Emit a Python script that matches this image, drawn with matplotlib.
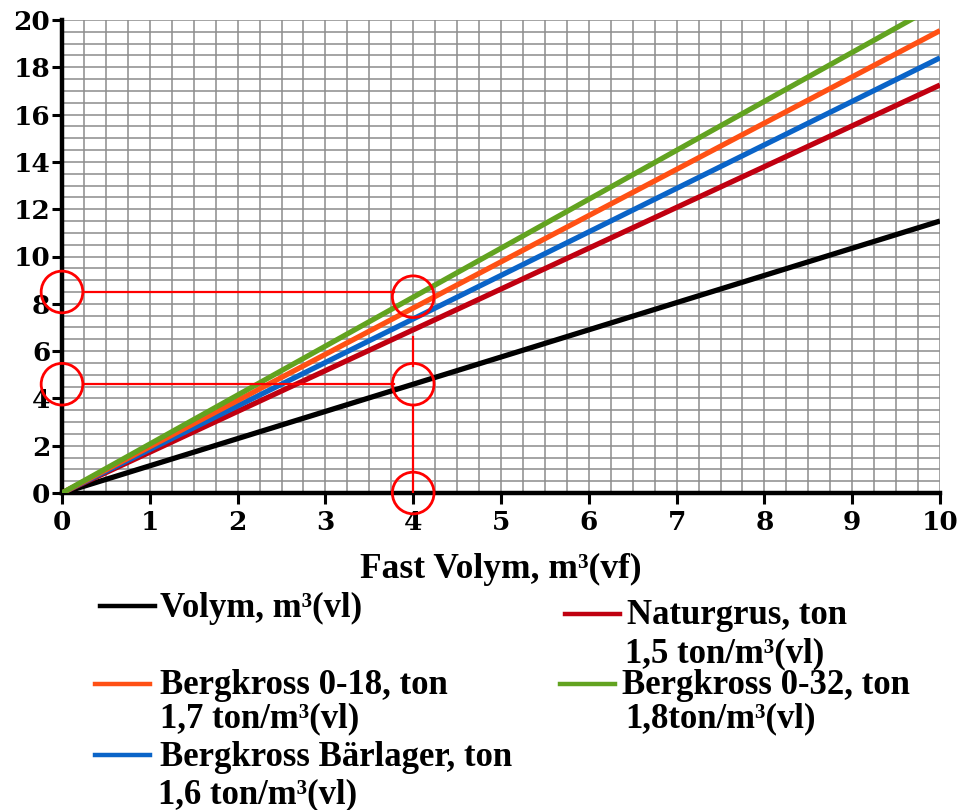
import matplotlib
matplotlib.use("Agg")
import matplotlib.pyplot as plt
import numpy as np
from matplotlib.lines import Line2D

# Fast volume (m³ vf) and corresponding loose volume (m³ vl)
fast_volym = [0, 10]
volym_vl = [0, 11.5]

# Bulk densities, ton per m³ loose volume
series_names = ["Naturgrus, ton", "Bergkross Bärlager, ton",
                "Bergkross 0-18, ton", "Bergkross 0-32, ton"]
densities = [1.5, 1.6, 1.7, 1.8]
series_colors = ["#C00010", "#0A64C8", "#FF5014", "#62A320"]

x_ticks = [0, 1, 2, 3, 4, 5, 6, 7, 8, 9, 10]
y_ticks = [0, 2, 4, 6, 8, 10, 12, 14, 16, 18, 20]

# Reading example: 4 m³ fast -> 4.6 m³ loose -> about 8.3 ton
ex_fast = 4
ex_loose = 4.6
ex_ton = 8.3
ex_ton_axis = 8.5

SERIF = "Liberation Serif"
TICKFONT = "DejaVu Serif"
LEGEND_SIZE = 25

fig = plt.figure(figsize=(9.6, 8.1), dpi=100)
ax = fig.add_axes([62 / 960, 1 - 493 / 810, (940 - 62) / 960, (493 - 20) / 810])

# Grid
ax.set_xticks(x_ticks)
ax.set_yticks(y_ticks)
ax.set_xticks(np.arange(0, 10.01, 0.25), minor=True)
ax.set_yticks(np.arange(0, 20.01, 0.5), minor=True)
ax.grid(True, which="both", color="#8C8C8C", linewidth=1.1)
ax.set_axisbelow(True)
ax.set_xlim(0, 10)
ax.set_ylim(0, 20)

# Lines
ax.plot(fast_volym, volym_vl, color="black", linewidth=3.8, solid_capstyle="butt",
        label="Volym, m³(vl)", zorder=3)
for name, d, c in zip(series_names, densities, series_colors):
    ax.plot(fast_volym, [d * v for v in volym_vl], color=c, linewidth=3.8,
            solid_capstyle="butt", label=name, zorder=3)

# Spines and ticks
for s in ["top", "right"]:
    ax.spines[s].set_visible(False)
ax.spines["left"].set_linewidth(3.2)
ax.spines["bottom"].set_linewidth(3.2)
ax.tick_params(axis="y", which="major", direction="out", length=7.5, width=2.2, pad=1)
ax.tick_params(axis="x", which="major", direction="out", length=8, width=2.2, pad=4)
ax.tick_params(which="minor", length=0)
for lab in ax.get_xticklabels() + ax.get_yticklabels():
    lab.set_fontfamily(TICKFONT)
    lab.set_fontweight("bold")
    lab.set_fontsize(19)

ax.set_xlabel("Fast Volym, m³(vf)", fontfamily=SERIF, fontweight="bold",
              fontsize=25.5, labelpad=13)

# Red reading guide
red = "#FF0000"
ax.plot([0.26, 3.78], [ex_ton_axis, ex_ton_axis], color=red, linewidth=1.6, zorder=5, clip_on=False)
ax.plot([0.26, 3.78], [ex_loose, ex_loose], color=red, linewidth=1.6, zorder=5, clip_on=False)
ax.plot([ex_fast, ex_fast], [ex_loose + 0.75, 6.6], color=red, linewidth=1.6, zorder=5)
ax.plot([ex_fast, ex_fast], [0, ex_loose - 0.88], color=red, linewidth=1.6, zorder=5)
circle_x = [0, ex_fast, 0, ex_fast, ex_fast]
circle_y = [ex_ton_axis, ex_ton, ex_loose, ex_loose, 0]
ax.scatter(circle_x, circle_y, s=900, facecolors="none", edgecolors=red,
           linewidths=2.0, zorder=6, clip_on=False)

# Legend
def legend_item(x0, y0, color, lines, text_x, line_gap):
    fig.add_artist(Line2D([x0 / 960, (x0 + 55) / 960], [1 - y0 / 810, 1 - y0 / 810],
                          color=color, linewidth=3.2))
    for i, t in enumerate(lines):
        fig.text(text_x[i] / 960, 1 - (y0 + 2 + i * line_gap) / 810, t,
                 fontfamily=SERIF, fontweight="bold", fontsize=LEGEND_SIZE,
                 ha="left", va="center")

legend_item(100, 606, "black", ["Volym, m³(vl)"], [160], 0)
legend_item(565, 614, series_colors[0],
            ["Naturgrus, ton", "1,5 ton/m³(vl)"], [627, 625], 38)
legend_item(95, 684, series_colors[2],
            ["Bergkross 0-18, ton", "1,7 ton/m³(vl)"], [160, 160], 33)
legend_item(560, 684, series_colors[3],
            ["Bergkross 0-32, ton", "1,8ton/m³(vl)"], [622, 625], 33)
legend_item(95, 755, series_colors[1],
            ["Bergkross Bärlager, ton", "1,6 ton/m³(vl)"], [160, 158], 38)

fig.savefig("out.png", dpi=100)
